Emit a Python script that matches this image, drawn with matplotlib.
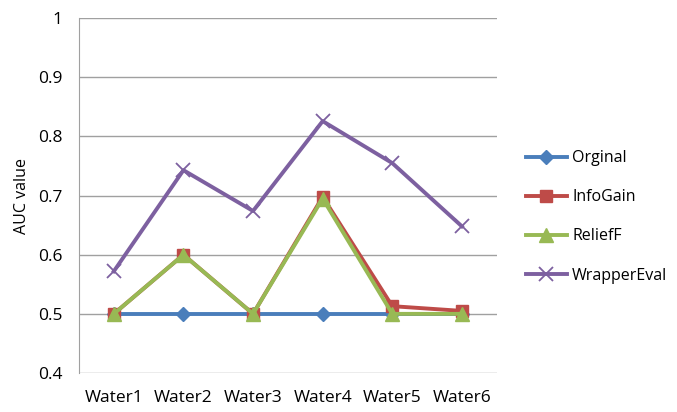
import matplotlib
matplotlib.use("Agg")
import matplotlib.pyplot as plt

plt.rcParams['font.family'] = ['Open Sans', 'DejaVu Sans']

# AUC per dataset for each feature selection method
datasets = ["Water1", "Water2", "Water3", "Water4", "Water5", "Water6"]
orginal = [0.5, 0.5, 0.5, 0.5, 0.5, 0.5]
info_gain = [0.5, 0.6, 0.5, 0.698, 0.513, 0.505]
relief_f = [0.5, 0.6, 0.5, 0.695, 0.5, 0.5]
wrapper_eval = [0.572, 0.743, 0.674, 0.826, 0.755, 0.648]

fig = plt.figure(figsize=(6.77, 4.12), dpi=100)
ax = fig.add_axes([0.1167, 0.0947, 0.617, 0.861])

x = list(range(len(datasets)))
ax.plot(x, orginal, color="#4A7EBB", lw=2.8, marker="D", ms=7, label="Orginal")
ax.plot(x, info_gain, color="#BE4B48", lw=2.8, marker="s", ms=9, label="InfoGain")
ax.plot(x, relief_f, color="#98B954", lw=2.8, marker="^", ms=10, label="ReliefF")
ax.plot(x, wrapper_eval, color="#7D60A0", lw=2.8, marker="x", ms=10, mew=1.3,
        label="WrapperEval")

ax.set_xlim(-0.5, len(datasets) - 0.5)
ax.set_ylim(0.4, 1.0)
ax.set_yticks([0.4, 0.5, 0.6, 0.7, 0.8, 0.9, 1.0])
ax.set_yticklabels(["0.4", "0.5", "0.6", "0.7", "0.8", "0.9", "1"])
ax.set_xticks(x)
ax.set_xticklabels(datasets)
ax.tick_params(length=0, labelsize=12.5)
ax.tick_params(axis="x", pad=12)
ax.tick_params(axis="y", pad=12)
ax.grid(axis="y", color="#A0A0A0", lw=1)
ax.set_axisbelow(True)
for side in ["top", "right", "bottom"]:
    ax.spines[side].set_visible(False)
ax.spines["left"].set_color("#A0A0A0")
ax.set_ylabel("AUC value", fontsize=11.5, labelpad=6)

ax.legend(loc="center left", bbox_to_anchor=(1.035, 0.44), frameon=False,
          fontsize=11.5, labelspacing=1.45, handlelength=2.6, handletextpad=0.3)

fig.savefig("out.png", dpi=100)
